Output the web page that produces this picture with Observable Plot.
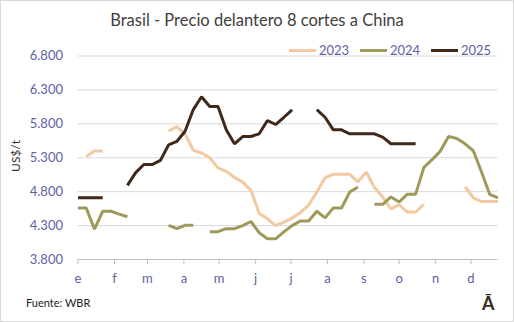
<!DOCTYPE html>
<html>
<head>
<meta charset="utf-8">
<script src="https://cdn.jsdelivr.net/npm/d3@7"></script>
<script src="https://cdn.jsdelivr.net/npm/@observablehq/plot@0.6"></script>
<style>
  body { margin: 0; background: #fff; }
  #wrap { position: relative; width: 514px; height: 322px; font-family: Lato, "Open Sans", sans-serif; overflow: hidden; }
  #wrap svg { position: absolute; left: 0; top: 0; }
  .ov { position: absolute; white-space: nowrap; }
  #frame { position: absolute; left: 0; top: 0; width: 512px; height: 320px; border: 1px solid #d9d9d9; pointer-events: none; }
  #title { left: 0; width: 514px; top: 10px; text-align: center; font-size: 16.5px; color: #404040; }
  .leg { position: absolute; top: 42px; height: 16px; display: flex; align-items: center; font-size: 13px; color: #5f60a4; }
  .sw { display: inline-block; width: 27px; height: 3px; margin-right: 3px; }
  #ylab { left: 15px; top: 156px; transform: translate(-50%, -50%) rotate(-90deg); font-size: 12px; color: #333; }
  #src { left: 26px; top: 296px; font-size: 11px; color: #222; }
  #logo { left: 482px; top: 292px; font-size: 18px; font-weight: bold; color: #3d2818; }
</style>
</head>
<body>
<div id="wrap">
  <div id="frame"></div>
</div>
<script>
// Week index 0..51 (weekly observations)
const weeks = d3.range(52);

const v2023 = [null,5320,5400,5400,null,null,null,null,null,null,null,5690,5760,5650,5410,5370,5300,5150,5100,5010,4940,4820,4480,4400,4300,4350,4410,4490,4600,4795,5005,5055,5055,5055,4945,5090,4860,4720,4545,4605,4500,4500,4614,null,null,null,null,4870,4710,4655,4655,4655];

const v2024 = [4560,4560,4246,4511,4511,4470,4430,null,null,null,null,4304,4255,4304,4304,null,4210,4210,4255,4255,4300,4360,4195,4105,4105,4207,4300,4368,4368,4511,4413,4560,4560,4795,4869,null,4614,4614,4722,4648,4763,4763,5158,5273,5398,5613,5585,5506,5403,5089,4759,4710];

const v2025 = [4710,4710,4710,4710,null,null,4893,5080,5200,5200,5260,5490,5540,5690,6010,6200,6055,6055,5712,5506,5613,5613,5653,5849,5790,5897,6006,null,null,6010,5897,5712,5712,5653,5653,5653,5653,5604,5506,5506,5506,5506,null,null,null,null,null,null,null,null,null,null];

const seriesNames = ["2023", "2024", "2025"];
const seriesColors = ["#f2c9a1", "#a09a5a", "#40291a"];

const monthLabels = ["e","f","m","a","m","j","j","a","s","o","n","d"];
const monthStartDay = [0,31,59,90,120,151,181,212,243,273,304,334];
const yTicks = [3800, 4300, 4800, 5300, 5800, 6300, 6800];

const monthPos = monthStartDay.map(d => d / 7);
const fmt = d => String(d).replace(/(\d)(\d{3})$/, "$1.$2");

const allSeries = [v2023, v2024, v2025];
const rows = allSeries.map((vals, s) => weeks.map(w => ({week: w, value: vals[w], series: seriesNames[s]})));

const chart = Plot.plot({
  width: 514,
  height: 322,
  marginLeft: 77.5,
  marginRight: 16.5,
  marginTop: 55.5,
  marginBottom: 63,
  style: {fontFamily: "Lato, 'Open Sans', sans-serif", background: "transparent"},
  x: {domain: [0, 51], axis: null},
  y: {domain: [3800, 6800], axis: null},
  marks: [
    Plot.gridY(yTicks.slice(1), {stroke: "#d9d9d9", strokeOpacity: 1, strokeWidth: 1}),
    Plot.ruleY([3800], {stroke: "#bfbfbf", strokeWidth: 1}),
    Plot.axisX(monthPos, {
      tickSize: 5, tickPadding: 9, stroke: "#bfbfbf",
      tickFormat: (d, i) => monthLabels[i],
      fontSize: 13, fill: "#5f60a4", label: null
    }),
    Plot.axisY(yTicks, {
      tickSize: 0, tickPadding: 15, tickFormat: fmt,
      fontSize: 13, fill: "#5f60a4", label: null
    }),
    ...rows.map((r, s) => Plot.line(r, {
      x: "week", y: "value",
      stroke: seriesColors[s], strokeWidth: 3, strokeLinejoin: "miter", strokeLinecap: "butt"
    }))
  ]
});

const wrap = document.getElementById("wrap");
wrap.insertBefore(chart, wrap.firstChild);

function ov(id, text, cls) {
  const d = document.createElement("div");
  d.id = id; d.className = cls || "ov"; d.textContent = text;
  wrap.appendChild(d);
  return d;
}
ov("title", "Brasil - Precio delantero 8 cortes a China");
ov("ylab", "US$/t");
ov("src", "Fuente: WBR");
ov("logo", "Ā");

const legX = [289, 360, 431];
seriesNames.forEach((n, i) => {
  const d = document.createElement("div");
  d.className = "leg";
  d.style.left = legX[i] + "px";
  const sw = document.createElement("span");
  sw.className = "sw"; sw.style.background = seriesColors[i];
  const t = document.createElement("span");
  t.textContent = n;
  d.appendChild(sw); d.appendChild(t);
  wrap.appendChild(d);
});
</script>
</body>
</html>
